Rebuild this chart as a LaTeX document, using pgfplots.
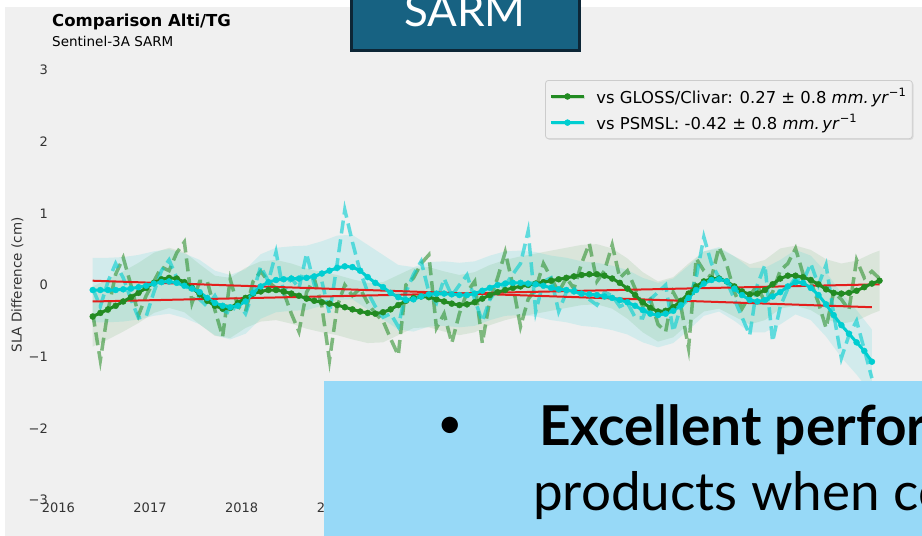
\documentclass[border=0pt]{standalone}
\usepackage{fontspec}
\setmainfont{DejaVu Sans}
\newfontfamily\slidefont{Lato}
\usepackage{pgfplots}
\usepackage{pgfplotstable}
\pgfplotsset{compat=1.18}
\usepgfplotslibrary{fillbetween}
\usetikzlibrary{shadows}

\definecolor{bg}{HTML}{F0F0F0}
\definecolor{gridc}{HTML}{CBCBCB}
\definecolor{fgreen}{RGB}{34,139,34}
\definecolor{dturq}{RGB}{0,206,209}
\definecolor{trend}{RGB}{228,30,28}
\definecolor{sarmfill}{RGB}{23,98,130}
\definecolor{sarmedge}{HTML}{0D2636}
\definecolor{boxblue}{HTML}{97D9F7}
\definecolor{ticktxt}{HTML}{333333}
\definecolor{legedge}{HTML}{CCCCCC}

% t (years since 2016.0), smoothed, raw (vs GLOSS/Clivar)
\pgfplotstableread{
t g gd
0.375 -0.44 -0.40
0.458 -0.39 -1.05
0.542 -0.34 -0.35
0.625 -0.29 0.15
0.708 -0.23 0.38
0.792 -0.17 0.00
0.875 -0.11 -0.42
0.958 -0.04 -0.15
1.042 0.03 0.05
1.125 0.08 0.25
1.208 0.10 0.20
1.292 0.09 0.45
1.375 0.04 0.60
1.458 -0.04 -0.25
1.542 -0.13 0.05
1.625 -0.22 0.05
1.708 -0.29 -0.35
1.792 -0.33 -0.72
1.875 -0.32 0.08
1.958 -0.25 -0.30
2.042 -0.18 -0.37
2.125 -0.12 0.05
2.208 -0.09 0.19
2.292 -0.07 0.05
2.375 -0.07 -0.05
2.458 -0.09 -0.10
2.542 -0.12 -0.40
2.625 -0.15 -0.65
2.708 -0.19 -0.10
2.792 -0.22 0.09
2.875 -0.24 -0.30
2.958 -0.26 -1.05
3.042 -0.28 -0.30
3.125 -0.31 0.00
3.208 -0.34 -0.15
3.292 -0.37 -0.05
3.375 -0.39 -0.25
3.458 -0.40 -0.40
3.542 -0.38 -0.50
3.625 -0.34 -0.75
3.708 -0.28 -0.98
3.792 -0.22 0.00
3.875 -0.18 0.10
3.958 -0.16 0.30
4.042 -0.17 0.42
4.125 -0.20 -0.60
4.208 -0.23 -0.40
4.292 -0.26 -0.81
4.375 -0.28 -0.40
4.458 -0.27 -0.10
4.542 -0.24 0.05
4.625 -0.19 -0.81
4.708 -0.14 -0.20
4.792 -0.10 0.10
4.875 -0.07 0.46
4.958 -0.04 0.00
5.042 -0.02 -0.58
5.125 0.00 -0.20
5.208 0.02 -0.05
5.292 0.04 0.30
5.375 0.06 0.10
5.458 0.08 -0.10
5.542 0.10 0.10
5.625 0.12 -0.05
5.708 0.14 0.30
5.792 0.15 0.58
5.875 0.15 0.05
5.958 0.13 0.20
6.042 0.09 0.56
6.125 0.03 0.10
6.208 -0.05 0.20
6.292 -0.14 -0.05
6.375 -0.24 -0.30
6.458 -0.32 -0.20
6.542 -0.37 -0.55
6.625 -0.36 -0.65
6.708 -0.31 -0.10
6.792 -0.22 -0.30
6.875 -0.12 -0.88
6.958 -0.02 0.37
7.042 0.05 0.20
7.125 0.09 0.10
7.208 0.09 0.53
7.292 0.05 0.28
7.375 -0.02 -0.10
7.458 -0.09 -0.33
7.542 -0.13 -0.15
7.625 -0.12 0.00
7.708 -0.07 -0.25
7.792 0.01 -0.10
7.875 0.09 0.20
7.958 0.13 0.30
8.042 0.13 0.51
8.125 0.11 0.15
8.208 0.07 0.05
8.292 0.01 -0.25
8.375 -0.06 -0.60
8.458 -0.11 -0.10
8.542 -0.12 -0.20
8.625 -0.11 -0.35
8.708 -0.08 0.35
8.792 -0.03 0.10
8.875 0.02 0.19
8.958 0.06 0.09
}\gloss

% t (years since 2016.0), smoothed, raw (vs PSMSL)
\pgfplotstableread{
t c cd
0.375 -0.07 -0.05
0.458 -0.07 -0.30
0.542 -0.07 0.05
0.625 -0.07 0.30
0.708 -0.06 0.10
0.792 -0.05 -0.20
0.875 -0.03 -0.46
0.958 -0.01 -0.44
1.042 0.02 -0.10
1.125 0.04 0.20
1.208 0.05 0.35
1.292 0.03 0.10
1.375 -0.01 -0.05
1.458 -0.05 0.00
1.542 -0.10 -0.20
1.625 -0.18 -0.30
1.708 -0.25 -0.15
1.792 -0.29 -0.35
1.875 -0.31 -0.40
1.958 -0.29 -0.25
2.042 -0.23 -0.40
2.125 -0.11 -0.10
2.208 -0.02 0.26
2.292 0.04 0.05
2.375 0.07 0.46
2.458 0.08 -0.10
2.542 0.09 0.10
2.625 0.09 -0.05
2.708 0.10 0.44
2.792 0.12 0.00
2.875 0.16 0.05
2.958 0.20 -0.40
3.042 0.24 0.30
3.125 0.26 1.05
3.208 0.25 0.60
3.292 0.20 0.19
3.375 0.11 -0.10
3.458 0.03 -0.30
3.542 -0.03 -0.45
3.625 -0.11 -0.40
3.708 -0.17 -0.58
3.792 -0.21 -0.10
3.875 -0.20 0.15
3.958 -0.16 0.33
4.042 -0.13 -0.10
4.125 -0.12 -0.25
4.208 -0.12 0.09
4.292 -0.13 -0.15
4.375 -0.14 0.00
4.458 -0.14 0.14
4.542 -0.12 -0.20
4.625 -0.08 -0.51
4.708 -0.04 -0.20
4.792 0.00 -0.05
4.875 0.02 0.00
4.958 0.03 0.15
5.042 0.03 0.30
5.125 0.02 0.75
5.208 0.01 -0.37
5.292 -0.01 0.05
5.375 -0.04 0.10
5.458 -0.06 -0.37
5.542 -0.07 -0.10
5.625 -0.09 -0.05
5.708 -0.12 -0.15
5.792 -0.13 -0.20
5.875 -0.14 -0.28
5.958 -0.16 -0.10
6.042 -0.18 -0.15
6.125 -0.21 -0.30
6.208 -0.24 -0.25
6.292 -0.29 -0.45
6.375 -0.35 -0.46
6.458 -0.40 -0.20
6.542 -0.42 -0.10
6.625 -0.40 0.00
6.708 -0.36 -0.65
6.792 -0.28 -0.30
6.875 -0.18 -0.20
6.958 -0.07 0.10
7.042 0.02 0.67
7.125 0.07 0.30
7.208 0.08 0.10
7.292 0.05 0.05
7.375 -0.05 -0.20
7.458 -0.14 -0.45
7.542 -0.21 -0.70
7.625 -0.23 0.00
7.708 -0.21 0.28
7.792 -0.16 -0.79
7.875 -0.10 -0.30
7.958 -0.02 -0.05
8.042 0.04 0.10
8.125 0.03 0.05
8.208 -0.04 0.30
8.292 -0.14 0.00
8.375 -0.27 0.28
8.458 -0.42 -0.40
8.542 -0.56 -1.02
8.625 -0.68 -0.70
8.708 -0.80 -0.50
8.792 -0.92 -0.90
8.875 -1.07 -1.30
}\psmsl

% uncertainty band, GLOSS/Clivar
\pgfplotstableread{
t lo hi
0.375 -0.86 -0.02
0.542 -0.76 0.08
0.708 -0.65 0.19
0.875 -0.53 0.31
1.042 -0.39 0.45
1.208 -0.32 0.52
1.375 -0.38 0.46
1.542 -0.55 0.29
1.708 -0.71 0.13
1.875 -0.74 0.10
2.042 -0.60 0.24
2.208 -0.51 0.33
2.375 -0.49 0.35
2.542 -0.54 0.30
2.708 -0.61 0.23
2.875 -0.66 0.18
3.042 -0.70 0.14
3.208 -0.76 0.08
3.375 -0.81 0.03
3.542 -0.80 0.04
3.708 -0.70 0.14
3.875 -0.60 0.24
4.042 -0.59 0.25
4.208 -0.65 0.19
4.375 -0.70 0.14
4.542 -0.66 0.18
4.708 -0.56 0.28
4.875 -0.49 0.35
5.042 -0.44 0.40
5.208 -0.40 0.44
5.375 -0.36 0.48
5.542 -0.32 0.52
5.708 -0.28 0.56
5.875 -0.27 0.57
6.042 -0.33 0.51
6.208 -0.47 0.37
6.375 -0.66 0.18
6.542 -0.79 0.05
6.708 -0.73 0.11
6.875 -0.54 0.30
7.042 -0.37 0.47
7.208 -0.33 0.51
7.375 -0.44 0.40
7.542 -0.55 0.29
7.708 -0.49 0.35
7.875 -0.33 0.51
8.042 -0.29 0.55
8.208 -0.35 0.49
8.375 -0.48 0.36
8.542 -0.54 0.30
8.708 -0.50 0.34
8.875 -0.40 0.44
8.958 -0.36 0.48
}\glossband

% uncertainty band, PSMSL
\pgfplotstableread{
t lo hi
0.375 -0.52 0.38
0.542 -0.52 0.38
0.708 -0.51 0.39
0.875 -0.48 0.42
1.042 -0.43 0.47
1.208 -0.40 0.50
1.375 -0.46 0.44
1.542 -0.55 0.35
1.708 -0.70 0.20
1.875 -0.76 0.14
2.042 -0.68 0.22
2.208 -0.47 0.43
2.375 -0.38 0.52
2.542 -0.36 0.54
2.708 -0.35 0.55
2.875 -0.29 0.61
3.042 -0.21 0.69
3.208 -0.20 0.70
3.375 -0.34 0.56
3.542 -0.48 0.42
3.708 -0.62 0.28
3.875 -0.65 0.25
4.042 -0.58 0.32
4.208 -0.57 0.33
4.375 -0.59 0.31
4.542 -0.57 0.33
4.708 -0.49 0.41
4.875 -0.43 0.47
5.042 -0.42 0.48
5.208 -0.44 0.46
5.375 -0.49 0.41
5.542 -0.52 0.38
5.708 -0.57 0.33
5.875 -0.59 0.31
6.042 -0.63 0.27
6.208 -0.69 0.21
6.375 -0.80 0.10
6.542 -0.87 0.03
6.708 -0.81 0.09
6.875 -0.63 0.27
7.042 -0.43 0.47
7.208 -0.37 0.53
7.375 -0.50 0.40
7.542 -0.66 0.24
7.708 -0.66 0.24
7.875 -0.55 0.35
8.042 -0.41 0.49
8.208 -0.49 0.41
8.375 -0.72 0.18
8.542 -1.01 -0.11
8.708 -1.25 -0.35
8.875 -1.52 -0.62
}\psmslband

\begin{document}
\begin{tikzpicture}
\fill[white] (0pt,0pt) rectangle (922pt,-536pt);
\fill[bg] (5pt,-7pt) rectangle (922pt,-536pt);

\node[anchor=base west, inner sep=0pt, font=\fontsize{16.5}{16.5}\selectfont\bfseries] at (52pt,-26pt) {Comparison Alti/TG};
\node[anchor=base west, inner sep=0pt, font=\fontsize{13.5}{13.5}\selectfont] at (52pt,-46.5pt) {Sentinel-3A SARM};
\node[rotate=90, inner sep=0pt, text=ticktxt, font=\fontsize{13.5}{13.5}\selectfont] at (17.3pt,-285pt) {SLA Difference (cm)};

\begin{axis}[
  at={(50pt,-500pt)}, anchor=south west,
  scale only axis, width=869pt, height=430pt,
  xmin=-0.091, xmax=9.389, ymin=-3, ymax=3,
  axis line style={draw=none},
  major tick length=0pt,
  grid=major, grid style={color=gridc, line width=1pt},
  xtick={0,1,2,3,4,5,6,7,8,9},
  xticklabels={2016,2017,2018,2019,2020,2021,2022,2023,2024,2025},
  ytick={-3,-2,-1,0,1,2,3},
  yticklabels={−3,−2,−1,0,1,2,3},
  tick label style={font=\fontsize{13}{13}\selectfont, text=ticktxt},
  xticklabel style={anchor=center, inner sep=0pt, yshift=-8pt},
  yticklabel style={anchor=east, inner sep=0pt, xshift=-2pt},
  fill between/on layer=main,
  legend style={at={(1,1)}, anchor=north east, xshift=-6.3pt, yshift=-10pt,
    fill=bg, draw=legedge, line width=0.8pt, rounded corners=3pt,
    drop shadow={shadow xshift=1.2pt, shadow yshift=-1.2pt, opacity=0.18},
    font=\fontsize{16.4}{16.4}\selectfont, row sep=6pt, inner xsep=4pt, inner ysep=6pt,
    /tikz/every odd column/.append style={column sep=9pt}},
  legend cell align=left,
  legend image code/.code={\draw[mark repeat=2,mark phase=2,#1] plot coordinates {(0pt,0pt) (16.5pt,0pt) (33pt,0pt)};},
]
% bands
\addplot[name path=gu, draw=none, forget plot] table[x=t, y=hi]{\glossband};
\addplot[name path=gl, draw=none, forget plot] table[x=t, y=lo]{\glossband};
\addplot[fill=fgreen, fill opacity=0.10, draw=none, forget plot] fill between[of=gu and gl];
\addplot[name path=cu, draw=none, forget plot] table[x=t, y=hi]{\psmslband};
\addplot[name path=cl, draw=none, forget plot] table[x=t, y=lo]{\psmslband};
\addplot[fill=dturq, fill opacity=0.12, draw=none, forget plot] fill between[of=cu and cl];
% raw series, dashed
\addplot[fgreen, opacity=0.55, line width=3.5pt, dash pattern=on 13pt off 6pt, no marks, forget plot] table[x=t, y=gd]{\gloss};
\addplot[dturq, opacity=0.6, line width=3.5pt, dash pattern=on 13pt off 6pt, no marks, forget plot] table[x=t, y=cd]{\psmsl};
% trends
\addplot[trend, line width=2pt, no marks, forget plot] coordinates {(0.375,-0.23) (8.958,0.01)};
\addplot[trend, line width=2pt, no marks, forget plot] coordinates {(0.375,0.06) (8.875,-0.31)};
% smoothed series
\addplot[fgreen, line width=3pt, mark=*, mark size=3pt, mark options={solid, fill=fgreen, draw=fgreen, line width=0.4pt}] table[x=t, y=g]{\gloss};
\addlegendentry{vs GLOSS/Clivar: 0.27 ± 0.8 \textit{mm.\,yr}\textsuperscript{−1}}
\addplot[dturq, line width=3pt, mark=*, mark size=3pt, mark options={solid, fill=dturq, draw=dturq, line width=0.4pt}] table[x=t, y=c]{\psmsl};
\addlegendentry{vs PSMSL: -0.42 ± 0.8 \textit{mm.\,yr}\textsuperscript{−1}}
\end{axis}

\pgfresetboundingbox
\useasboundingbox (0pt,0pt) rectangle (922pt,-536pt);
\begin{scope}
\clip (0pt,0pt) rectangle (922pt,-536pt);
\draw[fill=sarmfill, draw=sarmedge, line width=3pt] (351.5pt,10pt) rectangle (579.5pt,-50.5pt);
\node[anchor=base, text=white, inner sep=0pt, font=\slidefont\fontsize{44}{44}\selectfont] at (465pt,-26pt) {SARM};
\fill[boxblue] (324pt,-381pt) rectangle (930pt,-540pt);
\node[anchor=base, inner sep=0pt, font=\slidefont\fontsize{44}{44}\selectfont] at (450pt,-438pt) {•};
\node[anchor=base west, inner sep=0pt, font=\slidefont\bfseries\fontsize{55}{55}\selectfont] at (539pt,-445pt) {Excellent performance};
\node[anchor=base west, inner sep=0pt, font=\slidefont\fontsize{53}{53}\selectfont] at (533pt,-510pt) {products when compared};
\end{scope}
\end{tikzpicture}
\end{document}
